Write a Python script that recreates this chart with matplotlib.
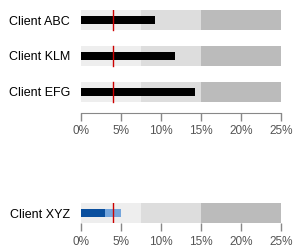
import matplotlib.pyplot as plt

clients = ['Client ABC', 'Client KLM', 'Client EFG']
values = [9.25, 11.75, 14.25]
target = 4
bands = [25, 15, 7.5]
band_colors = ['#BBBBBB', '#DDDDDD', '#EEEEEE']

xyz_label = 'Client XYZ'
xyz_actual = 3
xyz_forecast = 5

ticks = [0, 5, 10, 15, 20, 25]
tick_labels = ['0%', '5%', '10%', '15%', '20%', '25%']

plt.rcParams['font.family'] = ['Liberation Sans', 'DejaVu Sans']

W, H = 297, 249
fig = plt.figure(figsize=(W / 100, H / 100), dpi=100)


def style_x(ax):
    ax.set_xlim(0, 25)
    ax.set_xticks(ticks)
    ax.set_xticklabels(tick_labels)
    ax.tick_params(axis='x', direction='out', length=6, width=1, color='#888888',
                   labelcolor='#555555', labelsize=8.5, pad=3)
    ax.tick_params(axis='y', length=0, pad=8, labelsize=9, labelcolor='black')
    for s in ['top', 'right', 'left']:
        ax.spines[s].set_visible(False)
    ax.spines['bottom'].set_color('#888888')


def draw_bands(ax, y, h):
    # widest first so narrower ones sit on top
    for b, c in zip(bands, band_colors):
        ax.barh(y, b, height=h, color=c)


# top panel
ax1 = fig.add_axes([81 / W, (H - 113) / H, 200 / W, 103 / H])
ys = [2, 1, 0]
band_h = 20 / 36
for y, v in zip(ys, values):
    draw_bands(ax1, y, band_h)
    ax1.barh(y, v, height=8 / 36, color='black')
    ax1.plot([target, target], [y - band_h / 2, y + band_h / 2], color='#CC0000', lw=1)
ax1.set_ylim(-21 / 36, 2 + 10 / 36)
ax1.set_yticks(ys)
ax1.set_yticklabels(clients)
style_x(ax1)

# bottom panel
ax2 = fig.add_axes([81 / W, (H - 223) / H, 200 / W, 20 / H])
draw_bands(ax2, 0, 1)
ax2.barh(0, xyz_forecast, height=0.4, color='#74A5DC')
ax2.barh(0, xyz_actual, height=0.4, color='#0A4F9E')
ax2.plot([target, target], [-0.5, 0.5], color='#CC0000', lw=1)
ax2.set_ylim(-0.5, 0.5)
ax2.set_yticks([0])
ax2.set_yticklabels([xyz_label])
style_x(ax2)
ax2.spines['bottom'].set_visible(False)

fig.savefig('out.png', dpi=100)
